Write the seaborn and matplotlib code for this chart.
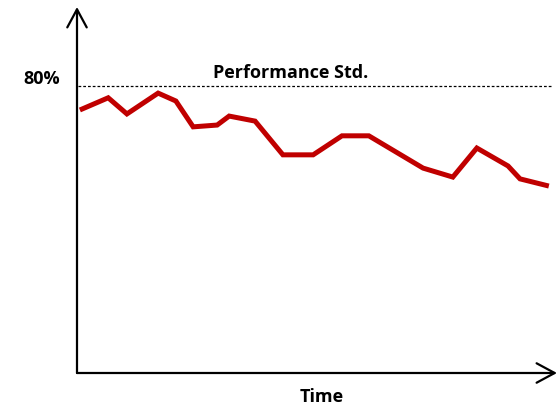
import matplotlib
matplotlib.use("Agg")
import matplotlib.pyplot as plt
import seaborn as sns
import pandas as pd

# Performance over time (percent), and the standard it is measured against
time = [0.6, 6.5, 10.4, 16.9, 20.6, 24.2, 29.2, 31.7, 37.1, 42.9,
        49.2, 55.2, 60.8, 72.1, 78.3, 83.3, 89.8, 92.3, 98.3]
performance = [73.3, 76.7, 72.2, 78.0, 75.8, 68.6, 69.1, 71.6, 70.2, 60.8,
               60.8, 66.1, 66.1, 57.1, 54.6, 62.7, 57.7, 54.1, 52.1]
standard = 80
standard_label = "Performance Std."
standard_tick = "80%"
x_label = "Time"

df = pd.DataFrame({"Time": time, "Performance": performance})

sns.set_theme(style="white")
plt.rcParams["font.family"] = ["Open Sans", "DejaVu Sans"]

fig = plt.figure(figsize=(5.58, 4.08), dpi=100)
ax = fig.add_axes([77 / 558, 35 / 408, 480 / 558, 366 / 408])

sns.lineplot(data=df, x="Time", y="Performance", ax=ax, color="#C00000",
             linewidth=3.6, solid_joinstyle="miter", solid_capstyle="butt")

# Performance standard reference line
ax.hlines(standard, 0.2, 99.2, colors="black", linewidth=0.9,
          linestyles=(0, (2.2, 1.6)))

ax.set_xlim(0, 100)
ax.set_ylim(0, 102)
ax.set_xticks([])
ax.set_yticks([])
ax.set_xlabel("")
ax.set_ylabel("")
for s in ax.spines.values():
    s.set_visible(False)

# Axes drawn as open-headed arrows
arrow = dict(arrowstyle="->,head_length=1.3,head_width=0.7", color="black",
             linewidth=1.6, mutation_scale=10, shrinkA=0, shrinkB=0)
ax.annotate("", xy=(0, 1), xytext=(0, 0), xycoords="axes fraction",
            textcoords="axes fraction", arrowprops=arrow, annotation_clip=False)
ax.annotate("", xy=(1, 0), xytext=(0, 0), xycoords="axes fraction",
            textcoords="axes fraction", arrowprops=arrow, annotation_clip=False)

txt = dict(ha="center", va="center", fontsize=13, fontweight="bold",
           color="black", clip_on=False)
ax.text(-7.3, 82, standard_tick, **txt)
ax.text(44.6, 83.6, standard_label, **txt)
ax.text(51.0, -6.7, x_label, **txt)

fig.savefig("out.png", dpi=100, facecolor="white")
